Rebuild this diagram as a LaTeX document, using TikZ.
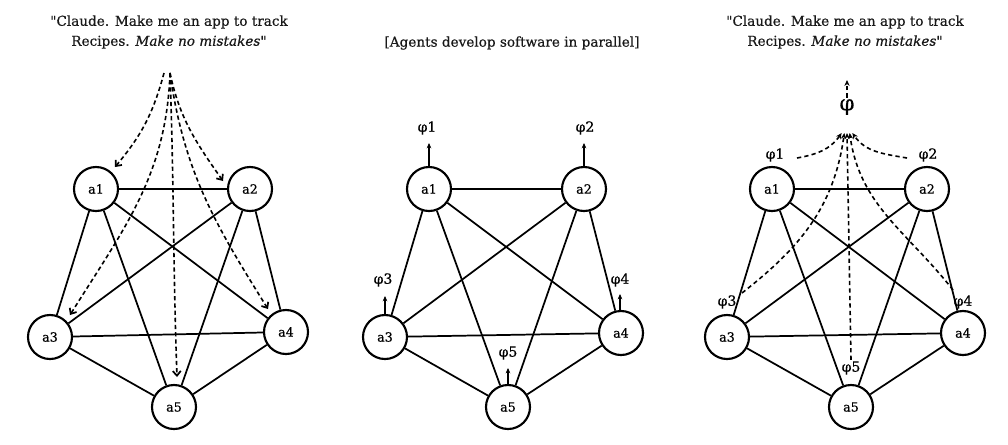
\documentclass[tikz,border=0pt]{standalone}
\usepackage{fontspec}
\setmainfont{DejaVu Serif}[Ligatures=TeXOff,UprightFeatures={FakeBold=0.6},ItalicFeatures={FakeBold=0.6}]
\usetikzlibrary{arrows.meta}
\begin{document}
\begin{tikzpicture}[x=0.75pt,y=-0.75pt,
  agent/.style={circle,draw,line width=1.6pt,minimum size=33pt,inner sep=0pt,font=\fontsize{9.5}{10}\selectfont},
  link/.style={line width=1.3pt},
  flow/.style={line width=1.2pt,dash pattern=on 3.2pt off 2.2pt,-{Straight Barb[length=3.5pt,width=6pt,line width=1.3pt]}},
  merge/.style={line width=1.2pt,dash pattern=on 3.2pt off 2.4pt,-{Stealth[length=4.5pt,width=4pt]}},
  up/.style={line width=1.2pt,-{Stealth[length=4pt,width=3.5pt]}},
  title/.style={font=\fontsize{10.2}{15}\selectfont,align=center,text=black!90},
  phil/.style={font=\fontsize{10.5}{12}\selectfont,inner sep=1pt}
]
\path[use as bounding box] (0,0) rectangle (1008,444);

% ---------- Panel 1 ----------
\node[title] (t1) at (169,32) {"Claude. Make me an app to track\\Recipes. \textit{Make no mistakes"}};
\node[agent] (p1a1) at (96,189) {a1};
\node[agent] (p1a2) at (250,189) {a2};
\node[agent] (p1a3) at (50,337) {a3};
\node[agent] (p1a4) at (286,332) {a4};
\node[agent] (p1a5) at (174,407) {a5};
\foreach \i/\j in {1/2,1/3,1/4,1/5,2/3,2/4,2/5,3/4,3/5,4/5}
  \draw[link] (p1a\i) -- (p1a\j);
\coordinate (s1) at (170,73);
\coordinate (s1b) at (164,73);
\coordinate (e11) at (115,167);
\coordinate (e12) at (223,181);
\coordinate (e13) at (70,315);
\coordinate (e14) at (268,309);
\coordinate (e15) at (177,377);
\draw[flow] (s1b) to[out=-105,in=50] (e11);
\draw[flow] (s1) to[out=-92,in=58] (e13);
\draw[flow] (s1) to[out=-88,in=92] (e15);
\draw[flow] (s1) to[out=-82,in=122] (e14);
\draw[flow] (s1) to[out=-78,in=125] (e12);

% ---------- Panel 2 ----------
\node[title] (t2) at (512,43) {[Agents develop software in parallel]};
\node[agent] (p2a1) at (429,189) {a1};
\node[agent] (p2a2) at (584,189) {a2};
\node[agent] (p2a3) at (385,337) {a3};
\node[agent] (p2a4) at (621,333) {a4};
\node[agent] (p2a5) at (508,407) {a5};
\foreach \i/\j in {1/2,1/3,1/4,1/5,2/3,2/4,2/5,3/4,3/5,4/5}
  \draw[link] (p2a\i) -- (p2a\j);
\node[phil] (q1) at (427,128) {φ1};
\node[phil] (q2) at (585,128) {φ2};
\node[phil] (q3) at (383,280) {φ3};
\node[phil] (q4) at (620,280) {φ4};
\node[phil] (q5) at (508,353) {φ5};
\coordinate (u1) at (429,143);
\coordinate (u2) at (584,143);
\coordinate (u3) at (385,296);
\coordinate (u4) at (620,294);
\coordinate (u5) at (508,368);
\draw[up] (p2a1.north) -- (u1);
\draw[up] (p2a2.north) -- (u2);
\draw[up] (385,315) -- (u3);
\draw[up] (620,311) -- (u4);
\draw[up] (p2a5.north) -- (u5);

% ---------- Panel 3 ----------
\node[title] (t3) at (845,32) {"Claude. Make me an app to track\\Recipes. \textit{Make no mistakes"}};
\node[agent] (p3a1) at (772,189) {a1};
\node[agent] (p3a2) at (927,189) {a2};
\node[agent] (p3a3) at (727,337) {a3};
\node[agent] (p3a4) at (963,333) {a4};
\node[agent] (p3a5) at (851,407) {a5};
\foreach \i/\j in {1/2,1/3,1/4,1/5,2/3,2/4,2/5,3/4,3/5,4/5}
  \draw[link] (p3a\i) -- (p3a\j);
\node[phil] (r1) at (775,155) {φ1};
\node[phil] (r2) at (928,155) {φ2};
\node[phil] (r3) at (727,302) {φ3};
\node[phil] (r4) at (963,302) {φ4};
\node[phil] (r5) at (851,368) {φ5};
\node[font=\fontsize{16}{18}\selectfont,inner sep=1pt] (phi) at (847,107) {φ};
\coordinate (c) at (847,133);
\coordinate (ctop) at (847,80);
\draw[merge] (phi.north) -- (ctop);
\draw[merge] (797,158) to[out=10,in=-125] ([xshift=-4]c);
\draw[merge] (907,158) to[out=170,in=-55] ([xshift=4]c);
\draw[merge] (742,293) to[out=38,in=-98] ([xshift=-2]c);
\draw[merge] (953,290) to[out=128,in=-82] ([xshift=2]c);
\draw[merge] (r5.north) -- (c);
\end{tikzpicture}
\end{document}
